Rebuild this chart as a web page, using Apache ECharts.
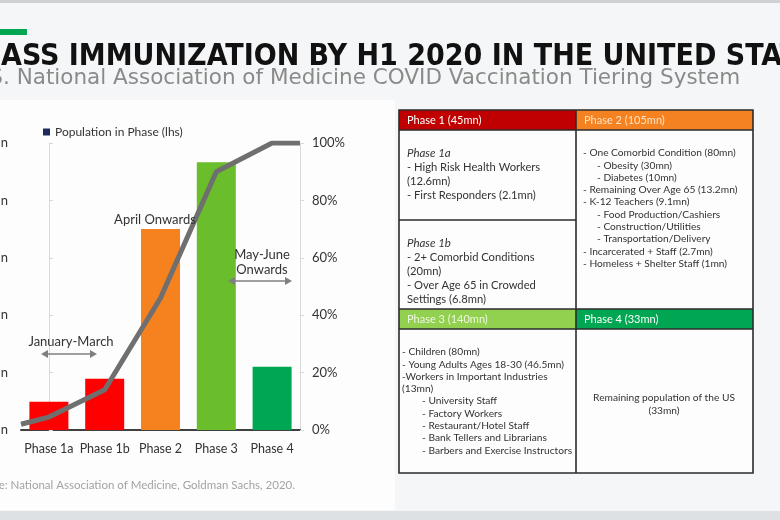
<!DOCTYPE html>
<html><head><meta charset="utf-8">
<script src="https://cdn.jsdelivr.net/npm/echarts@6/dist/echarts.min.js"></script>
<style>html,body{margin:0;padding:0;background:#f5f6f7}#c{width:780px;height:520px}</style>
</head><body><div id="c"></div>
<script>
// ---------- data ----------
const phases = ['Phase 1a', 'Phase 1b', 'Phase 2', 'Phase 3', 'Phase 4'];
const populationMn = [14.7, 26.8, 105, 140, 33];
const barColors = ['#ff0000', '#ff0000', '#f5821f', '#6abd2b', '#00a651'];
const cumulativePos = [-0.5, 0, 1, 2, 3, 4, 4.5];     // category position (edge, centres, edge)
const cumulativePct = [2, 4.5, 14, 46, 90, 100, 100];
const leftAxis = { min: 0, max: 150, interval: 30 };
const rightAxis = { min: 0, max: 100, interval: 20 };

const titleText = 'MASS IMMUNIZATION BY H1 2020 IN THE UNITED STATES';
const subtitleText = 'U.S. National Association of Medicine COVID Vaccination Tiering System';
const sourceText = 'Source: National Association of Medicine, Goldman Sachs, 2020.';
const legendName = 'Population in Phase (lhs)';

const tableHeaders = ['Phase 1 (45mn)', 'Phase 2 (105mn)', 'Phase 3 (140mn)', 'Phase 4 (33mn)'];
const phase1aLines = ['- High Risk Health Workers', '(12.6mn)', '- First Responders (2.1mn)'];
const phase1bLines = ['- 2+ Comorbid Conditions', '(20mn)', '- Over Age 65 in Crowded', 'Settings (6.8mn)'];
const phase2Lines = [
  [0, '- One Comorbid Condition (80mn)'], [1, '- Obesity (30mn)'], [1, '- Diabetes (10mn)'],
  [0, '- Remaining Over Age 65 (13.2mn)'], [0, '- K-12 Teachers (9.1mn)'],
  [1, '- Food Production/Cashiers'], [1, '- Construction/Utilities'], [1, '- Transportation/Delivery'],
  [0, '- Incarcerated + Staff (2.7mn)'], [0, '- Homeless + Shelter Staff (1mn)']
];
const phase3Lines = [
  [0, '- Children (80mn)'], [0, '- Young Adults Ages 18-30 (46.5mn)'], [0, '-Workers in Important Industries'],
  [0, '(13mn)'], [1, '- University Staff'], [1, '- Factory Workers'], [1, '- Restaurant/Hotel Staff'],
  [1, '- Bank Tellers and Librarians'], [1, '- Barbers and Exercise Instructors']
];
const phase4Lines = ['Remaining population of the US', '(33mn)'];

// ---------- layout helpers ----------
const UI = 'Lato, "Open Sans", sans-serif';
const TITLEF = '"DejaVu Sans Condensed", "DejaVu Sans", sans-serif';
const mctx = document.createElement('canvas').getContext('2d');
function measure(t, font) { mctx.font = font; return mctx.measureText(t).width; }

let tSize = 27 * 786 / measure('ASS IMMUNIZATION BY H1 2020 IN THE UNITED STA', 'bold 27px ' + TITLEF);
tSize = Math.max(22, Math.min(30, tSize));
const tX = 1 - measure('M', 'bold ' + tSize + 'px ' + TITLEF);
let sSize = 19 * 782 / measure('. National Association of Medicine COVID Vaccination Tiering Syste', '19px "DejaVu Sans"');
sSize = Math.max(16, Math.min(21.5, sSize));
const sX = 3 - measure('U.S', sSize + 'px "DejaVu Sans"');

function txt(x, y, text, o) {
  o = o || {};
  return {
    type: 'text', x: x, y: y, z: o.z || 10,
    style: {
      text: text, fill: o.color || '#333', fontSize: o.size || 12, fontFamily: o.family || UI,
      fontWeight: o.weight || 'normal', fontStyle: o.style || 'normal',
      textAlign: o.align || 'left', textVerticalAlign: 'middle'
    }
  };
}
function arrow(x1, x2, y) {
  const c = '#7f7f7f';
  return [
    { type: 'line', z: 10, shape: { x1: x1 + 5, y1: y, x2: x2 - 5, y2: y }, style: { stroke: c, lineWidth: 1.6 } },
    { type: 'polygon', z: 10, shape: { points: [[x1, y], [x1 + 7, y - 4], [x1 + 7, y + 4]] }, style: { fill: c } },
    { type: 'polygon', z: 10, shape: { points: [[x2, y], [x2 - 7, y - 4], [x2 - 7, y + 4]] }, style: { fill: c } }
  ];
}

const g = [];
// frame bands
g.push({ type: 'rect', z: -5, shape: { x: 0, y: 0, width: 780, height: 3 }, style: { fill: '#cfd2d4' } });
g.push({ type: 'rect', z: -5, shape: { x: 0, y: 511, width: 780, height: 9 }, style: { fill: '#dde1e3' } });
g.push({ type: 'rect', z: -6, shape: { x: 0, y: 100, width: 395, height: 410 }, style: { fill: '#fdfdfd' } });
// title
g.push({ type: 'rect', z: 5, shape: { x: 0, y: 29, width: 27, height: 6 }, style: { fill: '#00a651' } });
g.push(txt(tX, 57, titleText, { size: tSize, weight: 'bold', family: TITLEF, color: '#111' }));
g.push(txt(sX, 78, subtitleText, { size: sSize, family: '"DejaVu Sans"', color: '#8a8a8a' }));
// source
g.push(txt(295, 485, sourceText, { size: 11.5, color: '#a3a3a3', align: 'right' }));
// annotations
g.push(txt(155, 220, 'April Onwards', { size: 13, align: 'center' }));
g.push(txt(262, 255, 'May-June', { size: 13, align: 'center' }));
g.push(txt(262, 270, 'Onwards', { size: 13, align: 'center' }));
g.push(...arrow(228, 292, 281));
g.push(txt(71, 342, 'January-March', { size: 13, align: 'center' }));
g.push(...arrow(41, 97, 354));

// table
const X0 = 399, X1 = 576, X2 = 753;
const R = [110, 130, 220, 309, 329, 473];
const border = '#2b2b2b';
const tc = '#333333';
g.push({ type: 'rect', z: 4, shape: { x: X0, y: R[0], width: X2 - X0, height: R[5] - R[0] }, style: { fill: 'rgba(255,255,255,0.75)' } });
const hdrFill = ['#c00000', '#f58220', '#92d050', '#00a651'];
const hdrText = ['#ffffff', '#fde3c6', '#eef7e0', '#ffffff'];
const hdrPos = [[X0, R[0]], [X1, R[0]], [X0, R[3]], [X1, R[3]]];
hdrPos.forEach((p, i) => {
  const w = (i % 2 === 0) ? X1 - X0 : X2 - X1;
  g.push({ type: 'rect', z: 5, shape: { x: p[0], y: p[1], width: w, height: 20 }, style: { fill: hdrFill[i] } });
  g.push(txt(p[0] + 8, p[1] + 10.5, tableHeaders[i], { size: 11, color: hdrText[i] }));
});
// grid lines
const L = (x1, y1, x2, y2) => ({ type: 'line', z: 6, shape: { x1, y1, x2, y2 }, style: { stroke: border, lineWidth: 1.6 } });
g.push({ type: 'rect', z: 6, shape: { x: X0, y: R[0], width: X2 - X0, height: R[5] - R[0] }, style: { fill: 'none', stroke: border, lineWidth: 1.6 } });
g.push(L(X1, R[0], X1, R[5]));
g.push(L(X0, R[1], X2, R[1]));
g.push(L(X0, R[2], X1, R[2]));
g.push(L(X0, R[3], X2, R[3]));
g.push(L(X0, R[4], X2, R[4]));
// phase 1a / 1b
g.push(txt(407, 153, 'Phase 1a', { size: 11.5, style: 'italic', color: tc }));
phase1aLines.forEach((t, i) => g.push(txt(407, 167 + i * 14, t, { size: 11.2, color: tc })));
g.push(txt(407, 243, 'Phase 1b', { size: 11.5, style: 'italic', color: tc }));
phase1bLines.forEach((t, i) => g.push(txt(407, 257 + i * 14, t, { size: 11.2, color: tc })));
// phase 2
phase2Lines.forEach((l, i) => g.push(txt(583 + l[0] * 14, 153 + i * 12.3, l[1], { size: 10.2, color: tc })));
// phase 3
phase3Lines.forEach((l, i) => g.push(txt(402 + l[0] * 20, 352 + i * 12.3, l[1], { size: 10.2, color: tc })));
// phase 4
phase4Lines.forEach((t, i) => g.push(txt(664, 398 + i * 12.5, t, { size: 10.2, color: tc, align: 'center' })));

const chart = echarts.init(document.getElementById('c'), null, { renderer: 'canvas' });
chart.setOption({
  backgroundColor: '#f5f6f7',
  animation: false,
  textStyle: { fontFamily: UI },
  graphic: { elements: g },
  legend: {
    left: 38, top: 121, icon: 'rect', itemWidth: 7, itemHeight: 7, itemGap: 4, selectedMode: false,
    textStyle: { fontSize: 12, color: '#333', fontFamily: UI },
    data: [{ name: legendName, itemStyle: { color: '#1c2a5e' } }]
  },
  grid: { left: 21, right: 480, top: 143, bottom: 90, containLabel: false, outerBoundsMode: 'none' },
  xAxis: [
    {
      type: 'category', data: phases, boundaryGap: true,
      axisLine: { lineStyle: { color: '#404040', width: 2 } }, axisTick: { show: false },
      axisLabel: { fontSize: 12.5, color: '#333', margin: 12, interval: 0, fontFamily: UI }
    },
    { type: 'value', min: -0.5, max: 4.5, show: false }
  ],
  yAxis: [
    {
      type: 'value', min: leftAxis.min, max: leftAxis.max, interval: leftAxis.interval, position: 'left',
      axisLine: { show: true, lineStyle: { color: '#d9d9d9' } },
      axisTick: { show: true, inside: true, length: 4, lineStyle: { color: '#d9d9d9' } },
      splitLine: { show: false },
      axisLabel: { formatter: '{value}mn', fontSize: 13, color: '#333', margin: 13, fontFamily: UI }
    },
    {
      type: 'value', min: rightAxis.min, max: rightAxis.max, interval: rightAxis.interval, position: 'right',
      axisLine: { show: true, lineStyle: { color: '#d9d9d9' } },
      axisTick: { show: true, length: 4, lineStyle: { color: '#d9d9d9' } },
      splitLine: { show: false },
      axisLabel: { formatter: '{value}%', fontSize: 13, color: '#333', margin: 12, fontFamily: UI }
    }
  ],
  series: [
    {
      name: legendName, type: 'bar', barWidth: 39, xAxisIndex: 0, yAxisIndex: 0, z: 2,
      data: populationMn.map((v, i) => ({ value: v, itemStyle: { color: barColors[i] } }))
    },
    {
      name: 'Cumulative share (rhs)', type: 'line', xAxisIndex: 1, yAxisIndex: 1, z: 3,
      symbol: 'none', lineStyle: { color: '#6f6f6f', width: 5 },
      data: cumulativePos.map((x, i) => [x, cumulativePct[i]])
    }
  ]
});
</script></body></html>
